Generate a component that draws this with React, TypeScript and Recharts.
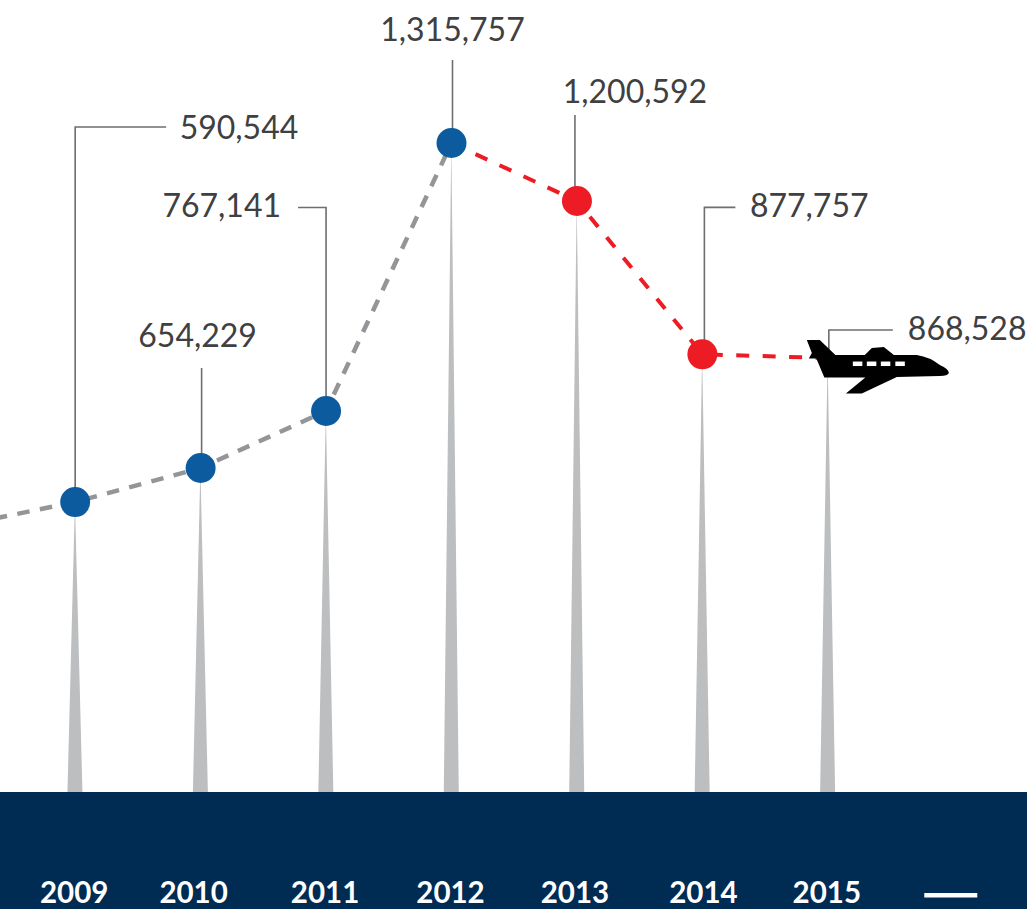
import { Bar, ComposedChart, Line, XAxis, YAxis } from 'recharts';

// Tick labels: the first and last slots only hold the line run-in and the closing dash
const years = ['2008', '2009', '2010', '2011', '2012', '2013', '2014', '2015', '2016'];
// Printed passenger figures
const printedValues = [null, 590544, 654229, 767141, 1315757, 1200592, 877757, 868528, null];
// Heights as drawn in the picture (the artwork does not follow its own figures exactly)
const spikeLevels = [null, 588000, 657000, 772600, 1316000, 1198400, 887500, 880000, null];
const greyLine = [536000, 588000, 657000, 772600, 1316000, null, null, null, null];
const redLine = [null, null, null, null, 1316000, 1198400, 887500, 880000, null];

const data = years.map((year, i) => ({
  year,
  printed: printedValues[i],
  spike: spikeLevels[i],
  grey: greyLine[i],
  red: redLine[i],
}));

const NAVY = '#002b53';
const BLUE = '#0b5b9e';
const RED = '#ed1c24';
const GREY = '#939598';
const SPIKE = '#bcbec0';
const LEADER = '#6d6e71';
const TEXT = '#3f4042';
const FONT = 'Lato, "Noto Sans", sans-serif';

// leader and label placement, relative to each point
const callouts: Record<string, any> = {
  '2009': { rise: 375, run: 91, dx: 104.5, baseline: 139, anchor: 'start' },
  '2010': { rise: 100, run: 0, dx: -3, baseline: 347, anchor: 'middle', shift: 1 },
  '2011': { rise: 203.5, run: -28, dx: -45, baseline: 217, anchor: 'end' },
  '2012': { rise: 83, run: 0, dx: 1, baseline: 41, anchor: 'middle', shift: 1 },
  '2013': { rise: 86, run: 0, dx: 58, baseline: 103, anchor: 'middle', shift: -2 },
  '2014': { rise: 147, run: 31, dx: 47.5, baseline: 217, anchor: 'start', shift: 2 },
  '2015': { rise: 28, run: 64, dx: 80, baseline: 340, anchor: 'start', shift: 1 },
};

// nudges for the year labels, which are not evenly spaced in the reference
const tickNudge: Record<string, number> = { '2009': -1, '2010': -7, '2011': -1, '2012': -1, '2013': -2, '2014': 1, '2015': -1 };

function LeaderDot(props: any) {
  const { cx, cy, payload, index } = props;
  const c = callouts[payload?.year];
  if (!c || cx == null || cy == null) return <g key={index} />;
  const x = cx + (c.shift ?? 0);
  return (
    <g key={index}>
      <path d={`M${x},${cy} V${cy - c.rise} h${c.run}`} fill="none" stroke={LEADER} strokeWidth={1.6} />
      <text x={cx + c.dx} y={c.baseline} textAnchor={c.anchor} fontFamily={FONT} fontSize={32} fill={TEXT}>
        {payload.printed.toLocaleString('en-US')}
      </text>
    </g>
  );
}

function Spike(props: any) {
  const { x, y, width, height } = props;
  if (!height) return <g />;
  const bottom = y + height;
  return <path d={`M${x},${bottom} L${x + width / 2},${y} L${x + width},${bottom} Z`} fill={SPIKE} />;
}

function BlueDot(props: any) {
  const { cx, cy, payload, index } = props;
  if (cx == null || cy == null || payload.year === '2008') return <g key={index} />;
  return <circle key={index} cx={cx} cy={cy} r={15} fill={BLUE} />;
}

function Plane({ x, y }: { x: number; y: number }) {
  const hull =
    'M-21,-18 L-8,-18 L7.5,-3 L37,-3 L44,-10 L56,-11 L66,-3 L89,-3 Q102,-1 112,7 Q121,11 121,15 Q120,18 112,18 L69,19 L34,35.5 L18,35.5 L37.5,19.5 L-3.5,19.5 L-11.5,0.5 L-19,0.5 L-16,-5 Z';
  return (
    <g transform={`translate(${x},${y})`}>
      <path d={hull} fill="#000" />
      {[25, 39, 53, 67.5].map((wx) => (
        <rect key={wx} x={wx} y={3.5} width={9.5} height={4.5} fill="#fff" />
      ))}
    </g>
  );
}

function RedDot(props: any) {
  const { cx, cy, payload, index } = props;
  if (cx == null || cy == null || payload.year === '2012') return <g key={index} />;
  if (payload.year === '2015') return <Plane key={index} x={cx} y={cy} />;
  return <circle key={index} cx={cx} cy={cy} r={15} fill={RED} />;
}

function YearTick(props: any) {
  const { x, payload } = props;
  if (payload.value === '2008') return <g />;
  if (payload.value === '2016') {
    return <rect x={x - 29} y={893} width={53} height={4.5} fill="#fff" />;
  }
  return (
    <text x={x + (tickNudge[payload.value] ?? 0)} y={903} textAnchor="middle" fontFamily={FONT} fontWeight={700} fontSize={29.5} fill="#fff">
      {payload.value}
    </text>
  );
}

export default function App() {
  return (
    <div style={{ position: 'absolute', left: 0, top: 0, width: 1027, height: 909, overflow: 'hidden', background: '#fff' }}>
      <div style={{ position: 'absolute', left: 0, top: 792, width: 1027, height: 117, background: NAVY }} />
      <div style={{ position: 'absolute', left: -113.5, top: 0 }}>
        <ComposedChart width={1169} height={909} data={data} margin={{ top: 0, right: 40, bottom: 0, left: 0 }}>
          <XAxis dataKey="year" height={117} axisLine={false} tickLine={false} tick={<YearTick />} interval={0} />
          <YAxis hide domain={[0, 1606000]} />
          <Bar dataKey="spike" barSize={15} shape={<Spike />} isAnimationActive={false} />
          <Line dataKey="spike" stroke="none" dot={LeaderDot} activeDot={false} isAnimationActive={false} />
          <Line dataKey="red" stroke={RED} strokeWidth={4} strokeDasharray="13 13.44" dot={RedDot} activeDot={false} isAnimationActive={false} />
          <Line dataKey="grey" stroke={GREY} strokeWidth={4.5} strokeDasharray="12.5 10.5" dot={BlueDot} activeDot={false} isAnimationActive={false} />
        </ComposedChart>
      </div>
    </div>
  );
}
